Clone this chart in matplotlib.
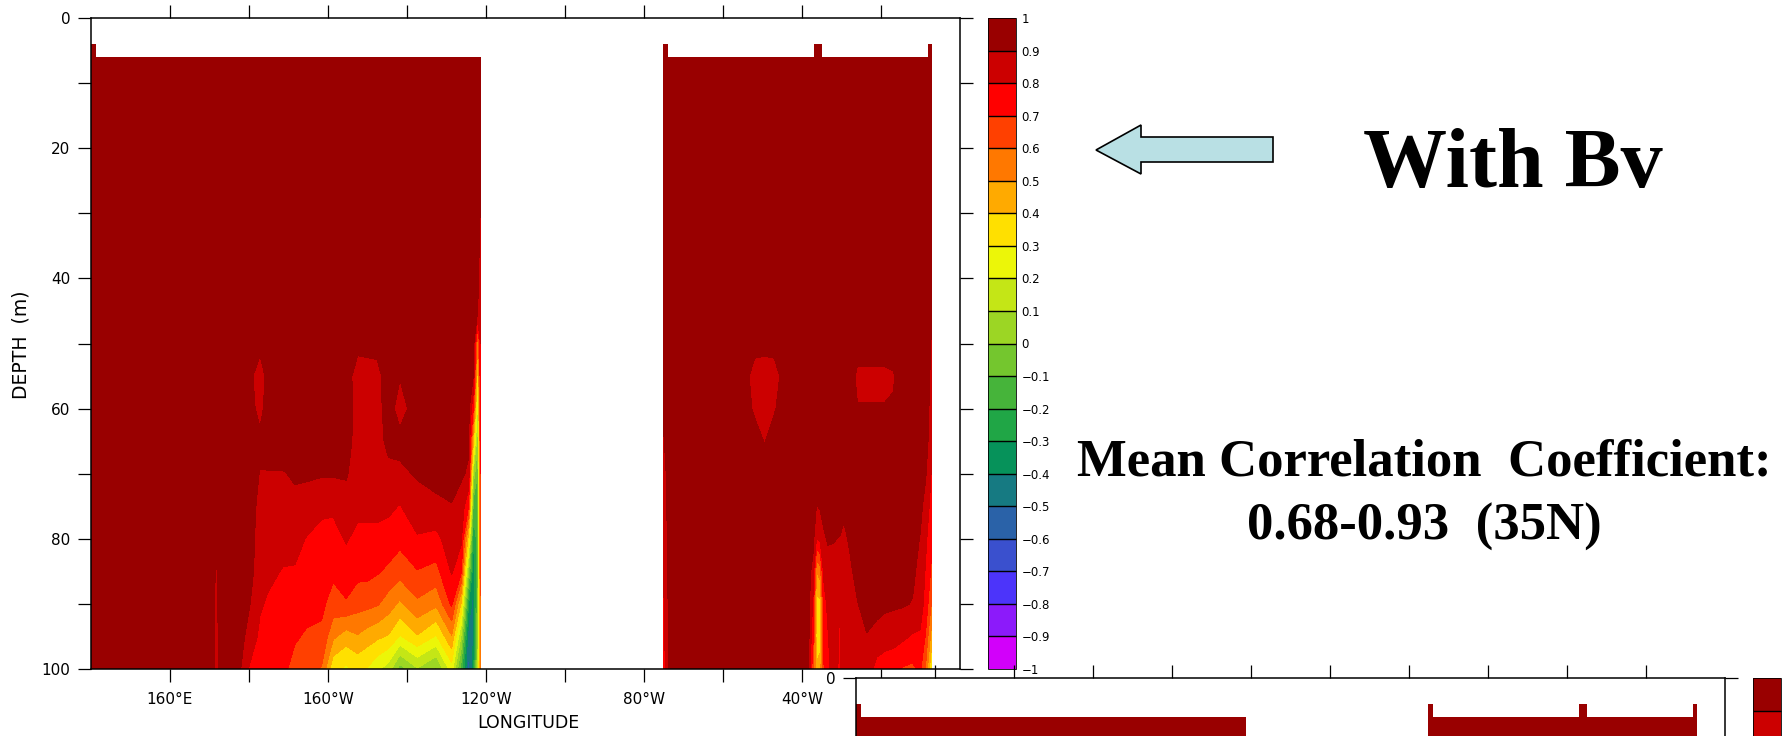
import numpy as np
import matplotlib
matplotlib.use("Agg")
import matplotlib.pyplot as plt
from matplotlib.patches import Polygon

# correlation section at 35N
depth = [6, 45, 50, 55, 60, 65, 70, 75, 80, 85, 90, 95, 100]

# Pacific: one row per longitude (deg E), values top -> bottom
pac_lon = [140, 170.8, 171.7, 172.6, 177.5, 180, 182.8, 184.7, 188.6, 191.6, 194.5,
           198.4, 201.3, 204.6, 207.5, 210, 212.5, 215.3, 218.2, 222.6, 227.4, 231.3,
           233.7, 235.6, 236.8, 237.9, 238.6]
pac_corr = [
    [.95, .95, .95, .95, .95, .95, .95, .95, .95, .95, .95, .95, .95],
    [.95, .95, .95, .95, .95, .95, .95, .95, .95, .95, .95, .95, .95],
    [.95, .95, .95, .95, .95, .95, .95, .95, .95, .88, .86, .84, .82],
    [.95, .95, .95, .95, .95, .95, .95, .95, .95, .95, .95, .95, .95],
    [.95, .95, .95, .95, .95, .95, .95, .95, .95, .95, .95, .95, .92],
    [.95, .95, .95, .95, .95, .95, .95, .95, .95, .95, .91, .86, .795],
    [.95, .95, .95, .81, .86, .93, .895, .87, .85, .83, .81, .78, .76],
    [.95, .95, .95, .95, .95, .94, .895, .86, .84, .82, .79, .77, .75],
    [.95, .95, .95, .95, .95, .94, .895, .86, .83, .795, .77, .74, .72],
    [.95, .95, .95, .95, .95, .94, .91, .88, .84, .79, .76, .71, .67],
    [.95, .95, .95, .95, .95, .94, .91, .87, .795, .76, .73, .69, .65],
    [.95, .95, .95, .95, .95, .94, .91, .82, .77, .75, .72, .68, .59],
    [.95, .95, .95, .95, .95, .94, .91, .82, .76, .72, .66, .52, .32],
    [.95, .95, .95, .95, .95, .94, .91, .86, .81, .75, .69, .45, .28],
    [.95, .95, .93, .85, .86, .86, .85, .83, .77, .73, .64, .49, .32],
    [.95, .95, .93, .86, .86, .86, .85, .83, .77, .73, .63, .45, .29],
    [.95, .95, .93, .87, .87, .87, .86, .83, .77, .71, .61, .42, .22],
    [.95, .95, .95, .95, .94, .92, .88, .82, .76, .68, .55, .39, .15],
    [.95, .95, .95, .905, .86, .93, .88, .795, .73, .64, .48, .29, -.05],
    [.95, .95, .95, .95, .95, .94, .91, .86, .79, .695, .58, .39, .09],
    [.95, .95, .95, .95, .95, .95, .93, .88, .77, .67, .52, .29, -.02],
    [.95, .95, .95, .95, .95, .95, .94, .895, .86, .81, .72, .49, .25],
    [.95, .95, .95, .95, .95, .94, .91, .87, .82, .72, .39, .09, -.15],
    [.95, .95, .95, .95, .93, .91, .89, .7, .35, .0, -.3, -.48, -.55],
    [.95, .95, .95, .9, .7, .4, .05, -.15, -.3, -.4, -.45, -.4, -.35],
    [.95, .9, .5, .3, .15, .0, -.1, -.15, -.15, -.1, -.05, .0, .1],
    [.95, .86, .8, .78, .75, .72, .7, .68, .66, .63, .59, .55, .55],
]

# Atlantic
atl_lon = [284.9, 286.5, 305.5, 308, 310.5, 313, 315.5, 321.5, 322.8, 323.7, 324.6,
           325.5, 326.5, 328, 329.6, 330.6, 332, 334, 336.4, 338.9, 341, 343.1,
           345.5, 348, 349.9, 351.3, 352.8]
atl_corr = [
    [.95, .95, .95, .95, .92, .89, .86, .84, .82, .8, .78, .76, .75],
    [.95, .95, .95, .95, .95, .95, .95, .95, .95, .95, .94, .93, .92],
    [.95, .95, .95, .95, .95, .95, .95, .95, .95, .95, .95, .95, .95],
    [.95, .95, .95, .84, .88, .95, .95, .95, .95, .95, .95, .95, .95],
    [.95, .95, .95, .82, .84, .895, .95, .95, .95, .95, .95, .95, .95],
    [.95, .95, .95, .84, .89, .95, .95, .95, .95, .95, .95, .95, .95],
    [.95, .95, .95, .95, .95, .95, .95, .95, .95, .95, .95, .95, .95],
    [.95, .95, .95, .95, .95, .95, .95, .95, .95, .95, .95, .95, .93],
    [.95, .95, .95, .95, .95, .95, .95, .95, .93, .86, .78, .72, .62],
    [.95, .95, .95, .95, .95, .95, .95, .895, .79, .5, .36, .33, .42],
    [.95, .95, .95, .95, .95, .95, .95, .91, .82, .55, .37, .35, .45],
    [.95, .95, .95, .95, .95, .95, .95, .94, .88, .82, .75, .72, .69],
    [.95, .95, .95, .95, .95, .95, .95, .95, .91, .86, .82, .79, .78],
    [.95, .95, .95, .95, .95, .95, .95, .95, .905, .87, .85, .85, .84],
    [.95, .95, .95, .95, .95, .95, .95, .95, .895, .85, .795, .79, .78],
    [.95, .95, .95, .95, .95, .95, .95, .92, .88, .87, .87, .86, .86],
    [.95, .95, .95, .95, .95, .95, .95, .95, .91, .88, .87, .86, .85],
    [.95, .95, .95, .88, .905, .95, .95, .95, .95, .93, .895, .87, .86],
    [.95, .95, .95, .88, .905, .95, .95, .95, .95, .95, .94, .895, .86],
    [.95, .95, .95, .88, .905, .95, .95, .95, .95, .95, .93, .87, .76],
    [.95, .95, .95, .88, .905, .95, .95, .95, .95, .95, .92, .85, .74],
    [.95, .95, .95, .89, .91, .95, .95, .95, .95, .94, .915, .84, .73],
    [.95, .95, .95, .95, .95, .95, .95, .95, .95, .93, .91, .82, .69],
    [.95, .95, .95, .95, .95, .95, .95, .95, .94, .92, .895, .79, .68],
    [.95, .95, .95, .95, .95, .95, .95, .93, .895, .87, .84, .79, .72],
    [.95, .95, .95, .95, .95, .94, .91, .86, .82, .79, .77, .69, .59],
    [.95, .93, .89, .88, .86, .84, .79, .76, .72, .68, .59, .45, .29],
]

# little columns that stick up above the first level
bump_start = [140.0, 284.9, 323.1, 351.9]
bump_end = [141.2, 286.0, 325.1, 352.8]
bump_top = 4.0

levels = np.round(np.linspace(-1, 1, 21), 1)
shade_colors = ['#d200fa', '#8c1afa', '#4c34fa', '#3a50ce', '#2a62a8', '#167a82',
                '#06925a', '#20a646', '#46b43a', '#74c62e', '#9cd624', '#c4e616',
                '#ecf608', '#ffe000', '#ffaa00', '#ff7800', '#ff4000', '#ff0000',
                '#cc0000', '#990000']
cbar_labels = ['\u22121', '\u22120.9', '\u22120.8', '\u22120.7', '\u22120.6', '\u22120.5',
               '\u22120.4', '\u22120.3', '\u22120.2', '\u22120.1', '0', '0.1', '0.2',
               '0.3', '0.4', '0.5', '0.6', '0.7', '0.8', '0.9', '1']
lon_ticks = [160, 180, 200, 220, 240, 260, 280, 300, 320, 340]
lon_labels = ['160°E', '', '160°W', '', '120°W', '', '80°W', '', '40°W', '']
depth_ticks = [0, 10, 20, 30, 40, 50, 60, 70, 80, 90, 100]
depth_labels = ['0', '', '20', '', '40', '', '60', '', '80', '', '100']

W, H = 1785, 736
fig = plt.figure(figsize=(W / 100, H / 100), dpi=100)


def panel(x0, y0):
    # x0, y0 = top left corner of the frame, in pixels
    ax = fig.add_axes([x0 / W, 1 - (y0 + 651) / H, 869 / W, 651 / H])
    for lon, corr in ((pac_lon, pac_corr), (atl_lon, atl_corr)):
        cs = ax.contourf(lon, depth, np.array(corr).T, levels=levels, colors=shade_colors)
    ax.bar(bump_start, depth[0] - bump_top, width=np.subtract(bump_end, bump_start),
           bottom=bump_top, align='edge', color=shade_colors[-1], linewidth=0)
    ax.set_xlim(140, 360)
    ax.set_ylim(100, 0)
    ax.set_xticks(lon_ticks)
    ax.set_xticklabels(lon_labels)
    ax.set_yticks(depth_ticks)
    ax.set_yticklabels(depth_labels)
    ax.tick_params(direction='out', length=9.4, width=0.9, top=True, right=True,
                   labelsize=11)
    ax.tick_params(axis='x', pad=7)
    ax.tick_params(axis='y', pad=5.5)
    for s in ax.spines.values():
        s.set_linewidth(1.1)
    fig.text((x0 - 70) / W, 1 - (y0 + 327) / H, 'DEPTH  (m)', rotation=90,
             ha='center', va='center', fontsize=13.5)
    fig.text((x0 + 437) / W, 1 - (y0 + 705) / H, 'LONGITUDE',
             ha='center', va='center', fontsize=12.5)

    cax = fig.add_axes([(x0 + 897) / W, 1 - (y0 + 651) / H, 28 / W, 651 / H])
    cb = fig.colorbar(cs, cax=cax, ticks=levels, drawedges=True)
    cb.ax.set_yticklabels(cbar_labels)
    cb.ax.tick_params(length=0, labelsize=8.5, pad=4)
    cb.outline.set_linewidth(0.6)
    cb.dividers.set_color('black')
    cb.dividers.set_linewidth(1.0)
    return ax


panel(91, 18)
panel(856, 678)   # second slide picture, mostly cut off by the page

# arrow pointing at the plot (pixels)
arrow_x = [1096, 1141, 1141, 1273, 1273, 1141, 1141]
arrow_y = [150, 125, 137, 137, 162, 162, 174]
arrow = Polygon(np.column_stack([np.array(arrow_x) / W, 1 - np.array(arrow_y) / H]),
                closed=True, transform=fig.transFigure, facecolor='#b9e0e4',
                edgecolor='black', linewidth=1.2)
fig.add_artist(arrow)

serif = dict(family='Liberation Serif', weight='bold', ha='center', va='baseline')
fig.text(1513 / W, 1 - 187 / H, 'With Bv', fontsize=60.5, **serif)
fig.text(1424 / W, 1 - 476 / H, 'Mean Correlation  Coefficient:', fontsize=38, **serif)
fig.text(1424 / W, 1 - 540 / H, '0.68-0.93  (35N)', fontsize=38, **serif)

fig.savefig('out.png', dpi=100)
